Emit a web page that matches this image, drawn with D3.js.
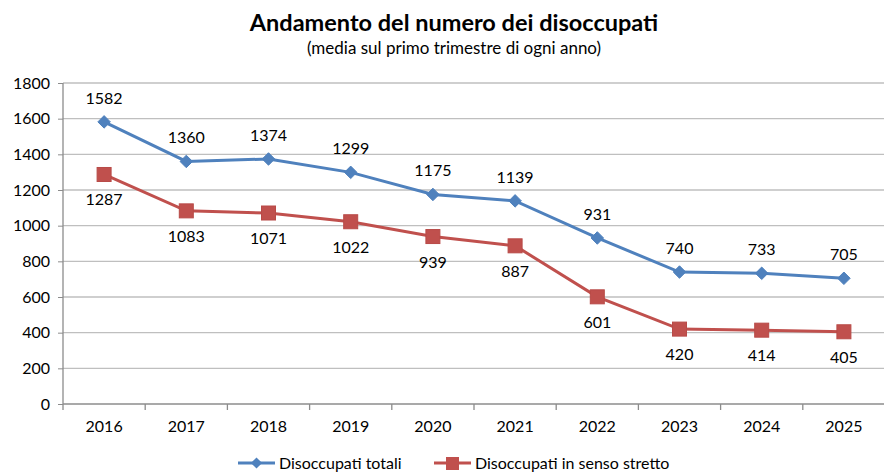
<!DOCTYPE html>
<html>
<head>
<meta charset="utf-8">
<script src="https://cdn.jsdelivr.net/npm/d3@7"></script>
<style>
  body { margin: 0; background: #fff; }
  svg text { font-family: Lato, "Open Sans", sans-serif; fill: #000; }
</style>
</head>
<body>
<svg id="chart" width="884" height="473"></svg>
<script>
// chart data
var years = ["2016", "2017", "2018", "2019", "2020", "2021", "2022", "2023", "2024", "2025"];
var totali = [1582, 1360, 1374, 1299, 1175, 1139, 931, 740, 733, 705];
var sensoStretto = [1287, 1083, 1071, 1022, 939, 887, 601, 420, 414, 405];
var yTicks = [0, 200, 400, 600, 800, 1000, 1200, 1400, 1600, 1800];

var BLUE = "#4F81BD", RED = "#C0504D";
var FONT = "16px";
var svg = d3.select("#chart");
var plotLeft = 63, plotRight = 885, plotTop = 83, plotBottom = 404;

var x = d3.scaleBand().domain(years).range([plotLeft, plotRight]);
var y = d3.scaleLinear().domain([0, 1800]).range([plotBottom, plotTop]);

// title
svg.append("text").attr("x", 454).attr("y", 31)
    .attr("text-anchor", "middle").style("font-size", "23.5px").style("font-weight", "bold")
    .text("Andamento del numero dei disoccupati");
svg.append("text").attr("x", 454).attr("y", 54)
    .attr("text-anchor", "middle").style("font-size", "17px")
    .text("(media sul primo trimestre di ogni anno)");

// gridlines
svg.append("g").selectAll("line").data(yTicks.slice(1)).enter().append("line")
    .attr("x1", plotLeft).attr("x2", plotRight)
    .attr("y1", d => y(d)).attr("y2", d => y(d))
    .style("stroke", "#BFBFBF").style("stroke-width", 1.3);

// y axis
var yAxis = svg.append("g").attr("transform", "translate(" + plotLeft + ",0)")
    .call(d3.axisLeft(y).tickValues(yTicks).tickFormat(d3.format("d")).tickSize(5).tickPadding(8));
yAxis.select(".domain").style("stroke", "#8C8C8C").style("stroke-width", 1.3)
    .attr("d", "M0," + plotTop + "V" + plotBottom);
yAxis.selectAll(".tick line").style("stroke", "#8C8C8C");
yAxis.selectAll("text").style("font-size", FONT).style("font-family", "Lato, 'Open Sans', sans-serif");

// x axis
var xAxis = svg.append("g").attr("transform", "translate(0," + plotBottom + ")")
    .call(d3.axisBottom(x).tickSize(0).tickPadding(17));
xAxis.select(".domain").style("stroke", "#8C8C8C").style("stroke-width", 1.3)
    .attr("d", "M" + plotLeft + ",0H" + plotRight);
xAxis.selectAll("text").style("font-size", FONT).style("font-family", "Lato, 'Open Sans', sans-serif");
svg.append("g").selectAll("line").data(years).enter().append("line")
    .attr("x1", d => x(d)).attr("x2", d => x(d))
    .attr("y1", plotBottom).attr("y2", plotBottom + 6)
    .style("stroke", "#8C8C8C").style("stroke-width", 1.3);

var cx = d => x(d) + x.bandwidth() / 2;
var line = d3.line().x((d, i) => cx(years[i])).y(d => y(d));

// series: totali
svg.append("path").datum(totali).attr("d", line)
    .style("fill", "none").style("stroke", BLUE).style("stroke-width", 3);
svg.append("g").selectAll("path").data(totali).enter().append("path")
    .attr("d", d3.symbol().type(d3.symbolDiamond2).size(100))
    .attr("transform", (d, i) => "translate(" + cx(years[i]) + "," + y(d) + ")")
    .style("fill", BLUE).style("stroke", BLUE);
svg.append("g").selectAll("text").data(totali).enter().append("text")
    .attr("x", (d, i) => cx(years[i])).attr("y", d => y(d) - 18)
    .attr("text-anchor", "middle").style("font-size", FONT).text(d => d);

// series: senso stretto
svg.append("path").datum(sensoStretto).attr("d", line)
    .style("fill", "none").style("stroke", RED).style("stroke-width", 3);
svg.append("g").selectAll("rect").data(sensoStretto).enter().append("rect")
    .attr("x", (d, i) => cx(years[i]) - 7).attr("y", d => y(d) - 7)
    .attr("width", 14).attr("height", 14)
    .style("fill", RED).style("stroke", "#B84A47");
svg.append("g").selectAll("text").data(sensoStretto).enter().append("text")
    .attr("x", (d, i) => cx(years[i])).attr("y", d => y(d) + 31)
    .attr("text-anchor", "middle").style("font-size", FONT).text(d => d);

// legend
var legend = [
    {name: "Disoccupati totali", color: BLUE, x: 238, shape: "diamond"},
    {name: "Disoccupati in senso stretto", color: RED, x: 434, shape: "square"}
];
var lg = svg.append("g").selectAll("g").data(legend).enter().append("g")
    .attr("transform", d => "translate(" + d.x + ",463)");
lg.append("line").attr("x1", 0).attr("x2", 37)
    .style("stroke", d => d.color).style("stroke-width", 3);
lg.each(function(d) {
    var g = d3.select(this);
    if (d.shape === "diamond") {
        g.append("path").attr("d", d3.symbol().type(d3.symbolDiamond2).size(80))
            .attr("transform", "translate(18.5,0)").style("fill", d.color);
    } else {
        g.append("rect").attr("x", 12).attr("y", -6).attr("width", 13).attr("height", 13)
            .style("fill", d.color);
    }
});
lg.append("text").attr("x", 41).attr("y", 5.5).style("font-size", FONT).text(d => d.name);
</script>
</body>
</html>
